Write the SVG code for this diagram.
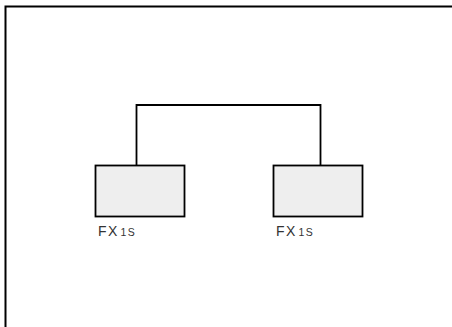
<svg xmlns="http://www.w3.org/2000/svg" width="452" height="327" viewBox="0 0 452 327">
<style>
.node{fill:#eeeeee;stroke:#000;stroke-width:1.8}
.lbl{font-family:"Liberation Sans",Arial,sans-serif;font-size:14px;fill:#333;letter-spacing:1.5px}
.sub{font-size:10.5px;letter-spacing:1.5px}
.wire{fill:none;stroke:#000;stroke-width:1.8}
</style>
<rect x="0" y="0" width="452" height="327" fill="#fff"/>
<path d="M5.5,340 V6.5 H460" fill="none" stroke="#000" stroke-width="2"/>
<g id="connectors">
<path class="wire" d="M136.5,165 V105 H320.5 V165"/>
</g>
<g id="node1">
<rect class="node" x="95.5" y="165.5" width="89" height="51"/>
<text class="lbl" x="98" y="236">FX<tspan class="sub" dx="1.5">1S</tspan></text>
</g>
<g id="node2">
<rect class="node" x="273.5" y="165.5" width="89" height="51"/>
<text class="lbl" x="276" y="236">FX<tspan class="sub" dx="1.5">1S</tspan></text>
</g>
</svg>
